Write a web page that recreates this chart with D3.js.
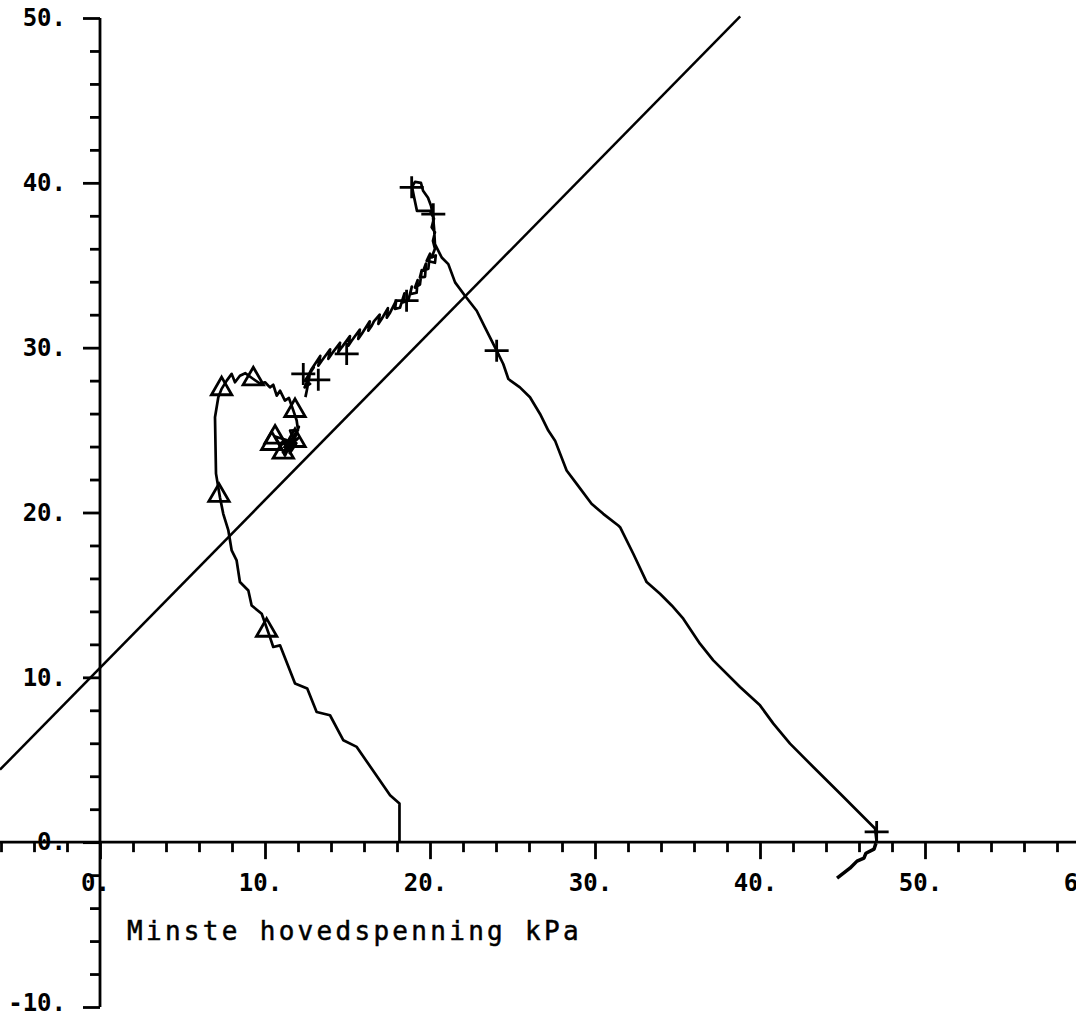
<!DOCTYPE html>
<html>
<head>
<meta charset="utf-8">
<script src="https://cdn.jsdelivr.net/npm/d3@7"></script>
<style>
  body { margin: 0; background: #fff; }
  svg { display: block; }
  .lbl { font-family: "DejaVu Sans Mono", monospace; font-weight: bold; font-size: 24px; fill: #000; }
  .title { font-family: "DejaVu Sans Mono", monospace; font-size: 26px; letter-spacing: 3.3px; fill: #000; stroke: #000; stroke-width: 0.5px; }
</style>
</head>
<body>
<div id="chart"></div>
<script>

// tick values
var xMajorTicks = [0, 10, 20, 30, 40, 50, 60];
var xMinorTicks = [-6, -4, -2, 2, 4, 6, 8, 12, 14, 16, 18, 22, 24, 26, 28, 32, 34, 36, 38, 42, 44, 46, 48, 52, 54, 56, 58];
var yMajorTicks = [-10, 0, 10, 20, 30, 40, 50];
var yMinorTicks = [-8, -6, -4, -2, 2, 4, 6, 8, 12, 14, 16, 18, 22, 24, 26, 28, 32, 34, 36, 38, 42, 44, 46, 48];
var xTitle = "Minste hovedspenning kPa";

// failure line (straight)
var failureLine = [[-6.06, 4.4], [38.8, 50.1]];

// stress path A (triangles)
var pathA = [[18.15,0],[18.15,2.35],[17.58,2.85],[16.67,4.16],[15.56,5.78],[14.75,6.18],[13.94,7.70],[13.13,7.90],
  [12.56,9.32],[11.82,9.62],[10.91,11.94],[10.50,11.84],[10.30,12.44],[9.80,13.86],[9.19,14.36],[8.99,15.27],
  [8.48,15.78],[8.28,17.09],[7.98,17.70],[7.78,18.91],[7.47,19.92],[7.27,20.93],[7.03,22.36],[6.97,25.78],
  [7.17,26.99],[7.37,27.50],[7.68,28.00],[7.98,28.41],[8.18,27.90],[8.48,28.30],[8.80,28.45],[9.29,28.10],
  [9.70,27.82],[10.0,27.9],[10.30,27.59],[10.50,27.75],[10.71,27.09],[10.91,27.39],[11.21,26.79],[11.45,26.95],
  [11.72,26.18],[11.92,25.58],[12.0,25.0],[11.52,24.97],[11.7,24.5],[10.91,24.06],[11.3,24.4],[10.61,24.61],
  [11.0,23.9],[11.21,23.45],[11.64,24.36],[11.09,23.64],[11.88,24.85],[11.39,23.88],[11.9,24.2],[11.5,23.6],
  [12.05,25.2],[11.6,24.1],[12.1,24.6]];
var markersA = [[10.10,12.85],[7.21,21.03],[7.37,27.5],[9.29,28.1],[11.82,26.18],[10.61,24.56],[10.41,24.18],[11.11,23.65],[11.82,24.36]];

// stress path B (crosses)
var pathB = [[47.07,0],[46.97,0.83],[44.85,2.95],[43.23,4.56],[41.82,5.98],[40.81,7.19],[40.00,8.30],[38.79,9.41],
  [37.17,11.03],[36.36,12.04],[35.35,13.56],[34.65,14.36],[33.94,15.07],[33.13,15.78],[32.32,17.50],[31.52,19.11],
  [31.41,19.21],[30.50,19.92],[29.79,20.53],[28.89,21.74],[28.28,22.55],[27.58,24.36],[27.17,24.97],[26.67,25.98],
  [26.06,26.99],[25.45,27.59],[24.75,28.10],[24.44,29.01],[24.04,29.82],[23.33,31.23],[22.83,32.24],[22.12,33.15],
  [21.52,33.96],[21.11,35.07],[20.71,35.47],[20.30,36.28],
  [20.25,37.2],[20.18,38.0],[20.06,38.61],[19.88,39.09],[19.58,39.52],[19.45,40.0],[19.09,40.06],[18.91,39.76],
  [19.03,39.15],[19.21,38.30],[20.0,38.30],[20.24,37.82],[20.10,37.3],[20.3,37.0],[20.18,36.48],
  [20.30,36.0],[20.10,35.47],[20.35,35.6],[20.30,35.15],[19.80,35.27],[20.0,35.7],[19.90,34.79],[19.59,34.67],
  [19.75,35.1],[19.70,34.30],[19.39,34.26],[19.5,34.7],[19.39,33.82],[19.09,33.65],[19.25,34.1],[19.19,33.33],
  [18.79,33.25],[18.9,33.7],[18.68,32.85],[18.38,32.75],[18.45,33.3],[18.18,32.42],[17.88,32.35],[17.95,32.85],
  [17.58,32.12],[17.38,31.82],[17.45,32.4],[17.07,31.74],[16.87,31.44],[16.95,32.0],[16.6,31.6],[16.47,31.33],
  [16.26,31.03],[16.35,31.6],[15.86,30.83],[15.65,30.53],[15.75,31.1],[15.25,30.42],[15.05,30.12],[15.15,30.7],
  [14.65,30.02],[14.44,29.72],[14.55,30.3],[14.04,29.62],[13.84,29.32],[13.95,29.9],[13.44,29.21],[13.23,28.91],
  [13.35,29.5],[12.83,28.71],[12.62,28.30],[12.95,28.8],[12.42,28.0],[12.73,27.80],[12.4,27.6],[12.7,28.3],
  [12.53,27.39],[12.45,27.0]];
var markersB = [[47.07,0.62],[24.04,29.82],[20.2,38.1],[18.89,39.73],[18.58,32.85],[14.95,29.62],[12.32,28.41],[13.23,28.05]];

// hand drawn break mark under the axis
var breakMark = [[47.03,-0.06],[46.91,-0.42],[46.42,-0.67],[46.30,-0.97],[45.88,-1.15],[45.45,-1.58],[44.67,-2.18]];


function draw_chart()
{
  var width = 1076;
  var height = 1019;

  var svg = d3.select("#chart").append("svg")
      .attr("width", width)
      .attr("height", height);

  var x = d3.scaleLinear().domain([0, 60]).range([100, 1090]);
  var y = d3.scaleLinear().domain([-10, 50]).range([1007, 18]);

  // x axis: line through y=0, ticks below
  svg.append("line")
      .attr("x1", 0).attr("x2", width)
      .attr("y1", y(0)).attr("y2", y(0))
      .attr("stroke", "#000").attr("stroke-width", 2.8);

  var xMinor = svg.append("g").attr("transform", "translate(0," + y(0) + ")")
      .call(d3.axisBottom(x).tickValues(xMinorTicks).tickSize(10).tickFormat(""));
  var xMajor = svg.append("g").attr("transform", "translate(0," + y(0) + ")")
      .call(d3.axisBottom(x).tickValues(xMajorTicks).tickSize(17).tickPadding(15)
        .tickFormat(function(d) {return d + "."}));

  // y axis: line through x=0, ticks to the left
  var yMinor = svg.append("g").attr("transform", "translate(" + x(0) + ",0)")
      .call(d3.axisLeft(y).tickValues(yMinorTicks).tickSize(10).tickFormat(""));
  var yMajor = svg.append("g").attr("transform", "translate(" + x(0) + ",0)")
      .call(d3.axisLeft(y).tickValues(yMajorTicks).tickSize(17).tickPadding(17)
        .tickFormat(function(d) {return d + "."}));

  [xMinor, xMajor, yMinor, yMajor].forEach(function(g) {
    g.select(".domain").remove();
    g.selectAll(".tick line").attr("stroke", "#000").attr("stroke-width", 2.8);
    g.selectAll("text").attr("class", "lbl").attr("fill", "#000");
  });
  xMajor.selectAll("text").attr("dx", -5);
  // keep the bottom label inside the page
  yMajor.selectAll("text").filter(function(d) {return d == -10}).attr("dy", "0.15em");

  svg.append("line")
      .attr("x1", x(0)).attr("x2", x(0))
      .attr("y1", y(50)).attr("y2", y(-10))
      .attr("stroke", "#000").attr("stroke-width", 2.8);

  svg.append("text")
      .attr("class", "title")
      .attr("x", 127)
      .attr("y", 940)
      .text(xTitle);

  var line = d3.line()
      .x(function(d) {return x(d[0])})
      .y(function(d) {return y(d[1])});

  svg.append("path").datum(failureLine)
      .attr("d", line).attr("fill", "none")
      .attr("stroke", "#000").attr("stroke-width", 2.5);

  svg.append("path").datum(pathA)
      .attr("d", line).attr("fill", "none")
      .attr("stroke", "#000").attr("stroke-width", 2.7).attr("stroke-linejoin", "round");

  svg.append("path").datum(pathB)
      .attr("d", line).attr("fill", "none")
      .attr("stroke", "#000").attr("stroke-width", 2.7).attr("stroke-linejoin", "round");

  svg.append("path").datum(breakMark)
      .attr("d", line).attr("fill", "none")
      .attr("stroke", "#000").attr("stroke-width", 3.5).attr("stroke-linejoin", "round");

  // open triangles
  svg.selectAll(".tri")
      .data(markersA)
      .enter().append("path")
      .attr("class", "tri")
      .attr("d", d3.symbol().type(d3.symbolTriangle).size(180))
      .attr("transform", function(d) {return "translate(" + x(d[0]) + "," + y(d[1]) + ")"})
      .attr("fill", "none").attr("stroke", "#000").attr("stroke-width", 2.8);

  // plus markers
  svg.selectAll(".cross")
      .data(markersB)
      .enter().append("path")
      .attr("class", "cross")
      .attr("d", function(d) {
        var cx = x(d[0]), cy = y(d[1]);
        return "M" + (cx - 12) + "," + cy + "H" + (cx + 12) + "M" + cx + "," + (cy - 11) + "V" + (cy + 11);
      })
      .attr("fill", "none").attr("stroke", "#000").attr("stroke-width", 2.8);
}

draw_chart();

</script>
</body>
</html>
